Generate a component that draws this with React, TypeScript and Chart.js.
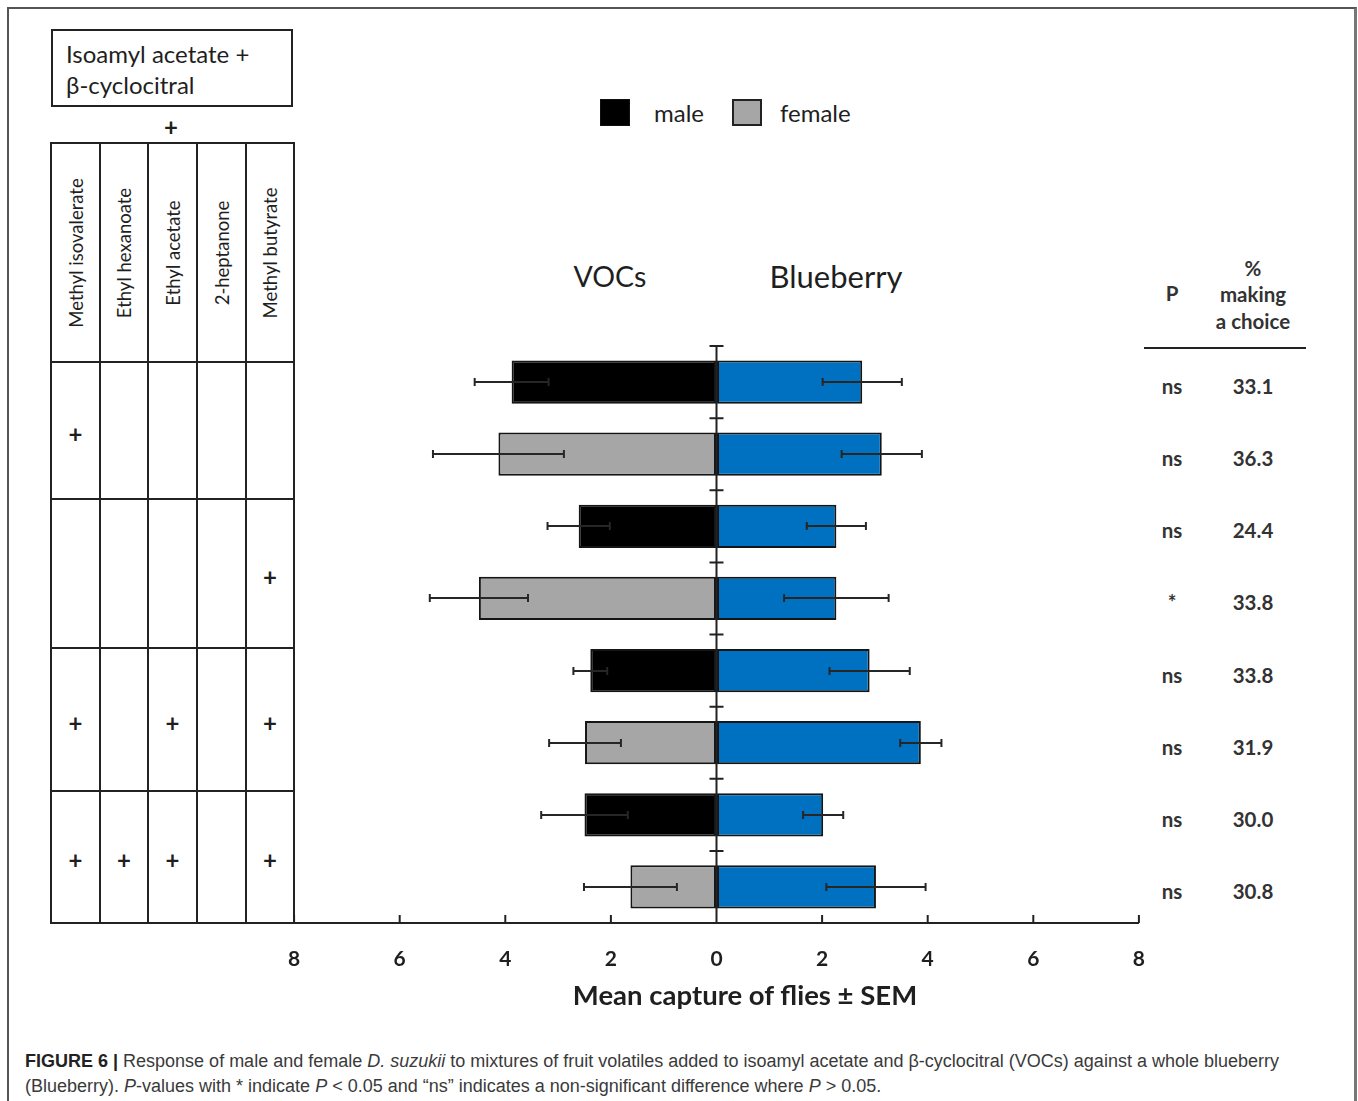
import React, { useEffect, useRef } from "react";
import { Chart, registerables } from "chart.js";

Chart.register(...registerables);

// One row per sex within each mixture (male above female)
const rowSex = ["male", "female", "male", "female", "male", "female", "male", "female"];
// Mean capture of flies in the VOC trap
const vocMeans = [3.88, 4.13, 2.61, 4.5, 2.39, 2.49, 2.5, 1.63];
const vocSem = [0.7, 1.24, 0.59, 0.93, 0.32, 0.68, 0.82, 0.88];
// Mean capture of flies in the blueberry trap
const berryMeans = [2.76, 3.13, 2.27, 2.27, 2.9, 3.87, 2.02, 3.02];
const berrySem = [0.75, 0.76, 0.56, 0.99, 0.76, 0.39, 0.38, 0.94];
// Significance and % of flies making a choice
const pValues = ["ns", "ns", "ns", "*", "ns", "ns", "ns", "ns"];
const choicePct = ["33.1", "36.3", "24.4", "33.8", "33.8", "31.9", "30.0", "30.8"];
// Axis ticks (left side shown as absolute values)
const xTickValues = [-8, -6, -4, -2, 0, 2, 4, 6, 8];
const xTitle = "Mean capture of flies ± SEM";
// Compounds added to the base blend, and which are present in each mixture
const compounds = ["Methyl isovalerate", "Ethyl hexanoate", "Ethyl acetate", "2-heptanone", "Methyl butyrate"];
const mixtures = [
  [1, 0, 0, 0, 0],
  [0, 0, 0, 0, 1],
  [1, 0, 1, 0, 1],
  [1, 1, 1, 0, 1],
];

const MALE = "#000000";
const FEMALE = "#a6a6a6";
const BLUE = "#0070c0";
const INK = "#1f1f1f";
const FONT = "Lato, 'Open Sans', sans-serif";

// canvas placement on the page
const CV_LEFT = 264;
const CV_TOP = 326;
const CV_W = 905;
const CV_H = 700;

// table geometry
const colX = [51, 100, 148, 197, 246, 294];
const rowY = [143, 362, 499, 648, 791, 923];

const semPlugin = {
  id: "semBars",
  afterDatasetsDraw(chart: any) {
    const ctx = chart.ctx;
    const xs = chart.scales.x;
    const groups = [
      { ds: 0, means: vocMeans, sems: vocSem, sign: -1 },
      { ds: 1, means: berryMeans, sems: berrySem, sign: 1 },
    ];
    ctx.save();
    ctx.strokeStyle = "#262626";
    ctx.lineWidth = 2;
    groups.forEach(({ ds, means, sems, sign }) => {
      const meta = chart.getDatasetMeta(ds);
      meta.data.forEach((bar: any, i: number) => {
        const y = Math.round(bar.y);
        const a = xs.getPixelForValue(sign * (means[i] - sems[i]));
        const b = xs.getPixelForValue(sign * (means[i] + sems[i]));
        ctx.beginPath();
        ctx.moveTo(a, y);
        ctx.lineTo(b, y);
        ctx.moveTo(a, y - 4);
        ctx.lineTo(a, y + 4);
        ctx.moveTo(b, y - 4);
        ctx.lineTo(b, y + 4);
        ctx.stroke();
      });
    });
    ctx.restore();
  },
};

const axesPlugin = {
  id: "centreAxis",
  afterDatasetsDraw(chart: any) {
    const ctx = chart.ctx;
    const xs = chart.scales.x;
    const ys = chart.scales.y;
    const area = chart.chartArea;
    const x0 = xs.getPixelForValue(0);
    const step = ys.getPixelForValue(1) - ys.getPixelForValue(0);
    const first = ys.getPixelForValue(0) - step / 2;
    ctx.save();
    ctx.strokeStyle = "#222";
    ctx.lineWidth = 2;
    ctx.beginPath();
    ctx.moveTo(x0, area.top);
    ctx.lineTo(x0, area.bottom);
    for (let i = 0; i < rowSex.length; i++) {
      const yy = first + i * step;
      ctx.moveTo(x0 - 7, yy);
      ctx.lineTo(x0 + 7, yy);
    }
    // inward tick marks on the bottom axis
    xTickValues.forEach((v) => {
      const px = xs.getPixelForValue(v);
      ctx.moveTo(px, area.bottom);
      ctx.lineTo(px, area.bottom - 8);
    });
    ctx.stroke();
    ctx.restore();
  },
};

function HLine({ x1, x2, y, w = 2, color = "#222" }: any) {
  return <div style={{ position: "absolute", left: x1, top: y - w / 2, width: x2 - x1, height: w, background: color }} />;
}
function VLine({ x, y1, y2, w = 2, color = "#222" }: any) {
  return <div style={{ position: "absolute", left: x - w / 2, top: y1, width: w, height: y2 - y1, background: color }} />;
}
function Label({ x, y, size, bold, children, rotate, color = INK, align = "center", family = FONT }: any) {
  const tx = align === "center" ? "-50%" : "0";
  return (
    <div
      style={{
        position: "absolute",
        left: x,
        top: y,
        transform: `translate(${tx}, -50%)${rotate ? ` rotate(${rotate}deg)` : ""}`,
        fontFamily: family,
        fontSize: size,
        fontWeight: bold ? 700 : 400,
        lineHeight: 1,
        whiteSpace: "nowrap",
        color,
      }}
    >
      {children}
    </div>
  );
}

export default function App() {
  const ref = useRef<HTMLCanvasElement | null>(null);

  useEffect(() => {
    const canvas = ref.current;
    if (!canvas) return;
    const chart = new Chart(canvas, {
      type: "bar",
      data: {
        labels: rowSex.map((s, i) => `${s} ${Math.floor(i / 2) + 1}`),
        datasets: [
          {
            label: "VOCs",
            data: vocMeans.map((v) => -v),
            backgroundColor: rowSex.map((s) => (s === "male" ? MALE : FEMALE)),
            borderColor: "#151515",
            borderWidth: 2,
            borderSkipped: false,
            barPercentage: 0.6,
            categoryPercentage: 1,
          },
          {
            label: "Blueberry",
            data: berryMeans,
            backgroundColor: BLUE,
            borderColor: "#151515",
            borderWidth: 2,
            borderSkipped: false,
            barPercentage: 0.6,
            categoryPercentage: 1,
          },
        ],
      },
      options: {
        indexAxis: "y",
        responsive: false,
        maintainAspectRatio: false,
        animation: false,
        layout: { padding: { left: 9, right: 10, top: 20, bottom: 0 } },
        plugins: {
          legend: { display: false },
          tooltip: { enabled: false },
        },
        scales: {
          x: {
            type: "linear",
            min: -8,
            max: 8,
            stacked: true,
            afterBuildTicks: (s: any) => {
              s.ticks = xTickValues.map((v) => ({ value: v }));
            },
            afterFit: (s: any) => {
              s.height = 103;
            },
            grid: { display: true, drawOnChartArea: false, drawTicks: false },
            border: { display: true, color: "#222", width: 2 },
            ticks: {
              callback: (v: any) => String(Math.abs(Number(v))),
              font: { family: FONT, size: 21, weight: "bold" },
              color: INK,
              padding: 24,
              maxRotation: 0,
              autoSkip: false,
            },
          },
          y: { type: "category", stacked: true, display: false, offset: true },
        },
      },
      plugins: [semPlugin, axesPlugin],
    } as any);
    return () => chart.destroy();
  }, []);

  const rowStep = (923 - 346) / rowSex.length;
  const side = { size: 20.5, bold: true, color: "#333" };

  return (
    <div style={{ position: "fixed", left: 0, top: 0, width: 1358, height: 1101, overflow: "hidden", background: "#fff" }}>
      {/* figure frame */}
      <div
        style={{
          position: "absolute",
          left: 7,
          top: 7,
          width: 1350,
          height: 1200,
          boxSizing: "border-box",
          borderTop: "2px solid #555",
          borderLeft: "2px solid #555",
          borderRight: "3px solid #777",
        }}
      />

      {/* base blend box */}
      <div
        style={{
          position: "absolute",
          left: 51,
          top: 29,
          width: 242,
          height: 78,
          boxSizing: "border-box",
          border: "2px solid #222",
        }}
      />
      <Label x={66} y={54} size={24} align="left">Isoamyl acetate +</Label>
      <Label x={66} y={85} size={24} align="left">β-cyclocitral</Label>
      <Label x={171} y={127} size={24} bold>+</Label>

      {/* compound table */}
      {colX.map((x) => (
        <VLine key={`c${x}`} x={x} y1={rowY[0] - 1} y2={rowY[rowY.length - 1] + 1} />
      ))}
      {rowY.map((y) => (
        <HLine key={`r${y}`} x1={colX[0] - 1} x2={colX[colX.length - 1] + 1} y={y} />
      ))}
      {compounds.map((c, i) => (
        <Label key={c} x={(colX[i] + colX[i + 1]) / 2} y={(rowY[0] + rowY[1]) / 2} size={18.5} rotate={-90}>
          {c}
        </Label>
      ))}
      {mixtures.map((mix, r) =>
        mix.map((on, c) =>
          on ? (
            <Label key={`m${r}${c}`} x={(colX[c] + colX[c + 1]) / 2} y={(rowY[r + 1] + rowY[r + 2]) / 2 + 3} size={24} bold>
              +
            </Label>
          ) : null
        )
      )}

      {/* legend */}
      <div style={{ position: "absolute", left: 600, top: 99, width: 30, height: 27, background: MALE, boxSizing: "border-box", border: "1px solid #111" }} />
      <Label x={654} y={113} size={24} align="left">male</Label>
      <div style={{ position: "absolute", left: 732, top: 99, width: 30, height: 27, background: FEMALE, boxSizing: "border-box", border: "2px solid #222" }} />
      <Label x={780} y={113} size={24} align="left">female</Label>

      {/* side headings */}
      <Label x={610} y={276} size={28.5}>VOCs</Label>
      <Label x={836} y={276} size={31}>Blueberry</Label>

      {/* P and % making a choice */}
      <Label x={1172} y={293} {...side}>P</Label>
      <Label x={1253} y={268} {...side}>%</Label>
      <Label x={1253} y={294} {...side}>making</Label>
      <Label x={1253} y={321} {...side}>a choice</Label>
      <HLine x1={1144} x2={1306} y={348} />
      {pValues.map((p, i) => (
        <Label key={`p${i}`} x={1172} y={346 + (i + 0.5) * rowStep + 4} {...side}>
          {p}
        </Label>
      ))}
      {choicePct.map((v, i) => (
        <Label key={`v${i}`} x={1253} y={346 + (i + 0.5) * rowStep + 4} {...side}>
          {v}
        </Label>
      ))}

      <canvas
        ref={ref}
        width={CV_W}
        height={CV_H}
        style={{ position: "absolute", left: CV_LEFT, top: CV_TOP, width: CV_W, height: CV_H }}
      />

      {/* axis title */}
      <Label x={745} y={995} size={27.5} bold>{xTitle}</Label>

      {/* caption */}
      <div
        style={{
          position: "absolute",
          left: 25,
          top: 1049,
          fontFamily: "'Liberation Sans', Arial, sans-serif",
          fontSize: 18,
          lineHeight: "25px",
          color: "#3a3a3a",
          whiteSpace: "nowrap",
        }}
      >
        <div>
          <b style={{ color: "#222" }}>FIGURE 6 |</b> Response of male and female <i>D. suzukii</i> to mixtures of fruit volatiles added to
          isoamyl acetate and β-cyclocitral (VOCs) against a whole blueberry
        </div>
        <div>
          (Blueberry). <i>P</i>-values with * indicate <i>P</i> {"<"} 0.05 and “ns” indicates a non-significant difference where <i>P</i>{" "}
          {">"} 0.05.
        </div>
      </div>
    </div>
  );
}
